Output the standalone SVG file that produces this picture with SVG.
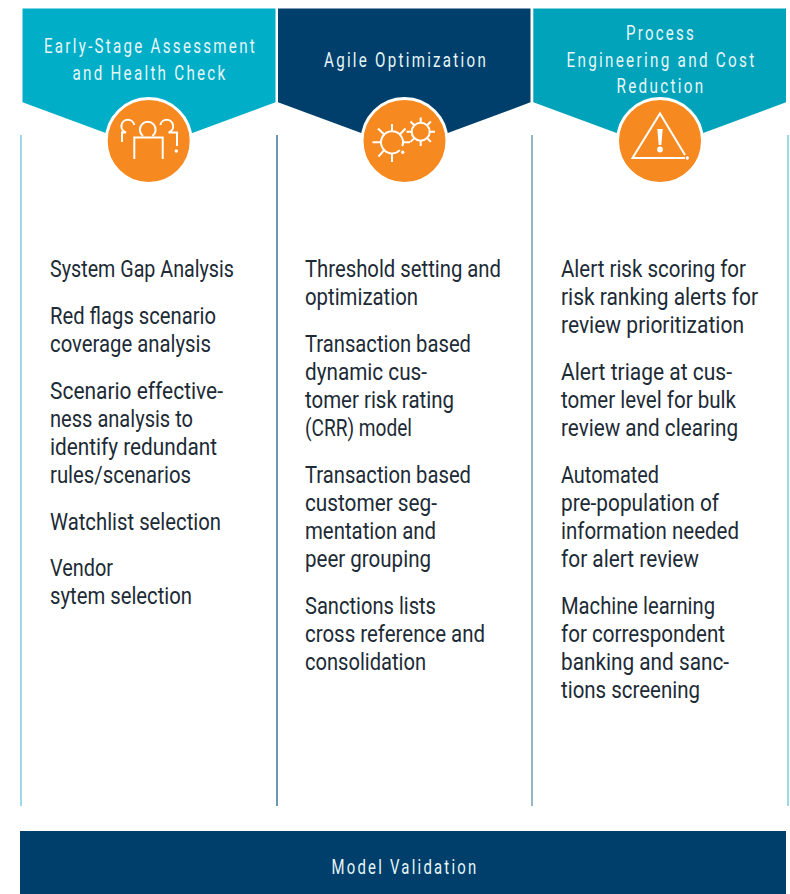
<svg xmlns="http://www.w3.org/2000/svg" width="790" height="894" viewBox="0 0 790 894">
<style>
.h{font-family:"Roboto","Liberation Sans",sans-serif;font-size:20px;fill:#e6f6f8;text-anchor:start;letter-spacing:3px}
.b{font-family:"Roboto","Liberation Sans",sans-serif;font-size:24px;fill:#1d2b36}
.c{fill:#f68a20;stroke:#fff;stroke-width:3}
.i{fill:none;stroke:#fff;stroke-width:2}
.w{fill:#fff}
</style>
<rect width="790" height="894" fill="#fff"/>
<g id="connectors" fill="none">
<path d="M21 135V806" stroke="#7fd3e0" stroke-width="1.6"/>
<path d="M277 135V806" stroke="#1f5f8b" stroke-width="1.3"/>
<path d="M532 135V806" stroke="#7fa3b8" stroke-width="1.6"/>
<path d="M788 135V806" stroke="#7fd3e0" stroke-width="1.6"/>
</g>
<g id="col1">
<path d="M22.500 8.500H275.500V102.300L149 149L22.500 102.300Z" fill="#00aec7"/>
<text class="h" x="44" y="53" textLength="213" lengthAdjust="spacingAndGlyphs">Early-Stage Assessment</text>
<text class="h" x="72.500" y="80" textLength="155" lengthAdjust="spacingAndGlyphs">and Health Check</text>
<circle class="c" cx="148.700" cy="141" r="42.500"/>
<path class="i" d="M134.300 159V137.500H162.700V159M143 136A7.900 7.900 0 1 1 152.500 136M122 142V132.500H126A6.500 6.500 0 1 1 134.300 125M177 146V132.500H168.600A6.500 6.500 0 1 0 160.300 125"/>
<circle class="w" cx="176.300" cy="151" r="1.700"/>
<g class="b">
<text x="50" y="277.300" textLength="184" lengthAdjust="spacingAndGlyphs">System Gap Analysis</text>
<text x="50" y="324.300" textLength="166" lengthAdjust="spacingAndGlyphs">Red flags scenario</text>
<text x="50" y="352.300" textLength="161" lengthAdjust="spacingAndGlyphs">coverage analysis</text>
<text x="50" y="399.300" textLength="173" lengthAdjust="spacingAndGlyphs">Scenario effective-</text>
<text x="50" y="427.300" textLength="143" lengthAdjust="spacingAndGlyphs">ness analysis to</text>
<text x="50" y="455.300" textLength="167" lengthAdjust="spacingAndGlyphs">identify redundant</text>
<text x="50" y="483.300" textLength="141" lengthAdjust="spacingAndGlyphs">rules/scenarios</text>
<text x="50" y="530.300" textLength="171" lengthAdjust="spacingAndGlyphs">Watchlist selection</text>
<text x="50" y="576.300" textLength="63" lengthAdjust="spacingAndGlyphs">Vendor</text>
<text x="50" y="604.300" textLength="142" lengthAdjust="spacingAndGlyphs">sytem selection</text>
</g>
</g>
<g id="col2">
<path d="M278 8.500H530.500V102.300L404.500 149L278 102.300Z" fill="#003f6b"/>
<text class="h" x="324" y="67" textLength="164" lengthAdjust="spacingAndGlyphs">Agile Optimization</text>
<circle class="c" cx="404.500" cy="141" r="42.500"/>
<path class="i" d="M402.300 146.200A11 11 0 1 0 399.800 150.100M392 124V131.300M392 153.300V162M372.500 142.300H381M403 142.300H410M378 128.500L384.200 134.500M378.500 156.500L384.200 150.100M405.500 128.500L399.800 134.500"/>
<circle class="w" cx="402.700" cy="152.300" r="1.700"/>
<circle class="i" cx="420.700" cy="131.700" r="9"/>
<path class="i" d="M420.700 117.500V122.700M420.700 140.700V146M406.500 131.700H411.700M429.700 131.700H435M410.500 121.500L414.300 125.300M430.900 121.500L427.100 125.300M410.500 141.900L414.300 138.100M430.900 141.900L427.100 138.100"/>
<g class="b">
<text x="305" y="277.300" textLength="196" lengthAdjust="spacingAndGlyphs">Threshold setting and</text>
<text x="305" y="305.300" textLength="113" lengthAdjust="spacingAndGlyphs">optimization</text>
<text x="305" y="352.300" textLength="166" lengthAdjust="spacingAndGlyphs">Transaction based</text>
<text x="305" y="380.300" textLength="122" lengthAdjust="spacingAndGlyphs">dynamic cus-</text>
<text x="305" y="408.300" textLength="149" lengthAdjust="spacingAndGlyphs">tomer risk rating</text>
<text x="305" y="436.300" textLength="107" lengthAdjust="spacingAndGlyphs">(CRR) model</text>
<text x="305" y="483.300" textLength="166" lengthAdjust="spacingAndGlyphs">Transaction based</text>
<text x="305" y="511.300" textLength="132" lengthAdjust="spacingAndGlyphs">customer seg-</text>
<text x="305" y="539.300" textLength="131" lengthAdjust="spacingAndGlyphs">mentation and</text>
<text x="305" y="567.300" textLength="126" lengthAdjust="spacingAndGlyphs">peer grouping</text>
<text x="305" y="614.300" textLength="131" lengthAdjust="spacingAndGlyphs">Sanctions lists</text>
<text x="305" y="642.300" textLength="180" lengthAdjust="spacingAndGlyphs">cross reference and</text>
<text x="305" y="670.300" textLength="121" lengthAdjust="spacingAndGlyphs">consolidation</text>
</g>
</g>
<g id="col3">
<path d="M533.300 8.500H786V102.300L660 149L533.300 102.300Z" fill="#00a3ba"/>
<text class="h" x="626" y="40" textLength="70" lengthAdjust="spacingAndGlyphs">Process</text>
<text class="h" x="566.500" y="67" textLength="190" lengthAdjust="spacingAndGlyphs">Engineering and Cost</text>
<text class="h" x="616.500" y="93" textLength="89" lengthAdjust="spacingAndGlyphs">Reduction</text>
<circle class="c" cx="660" cy="141" r="42.500"/>
<path class="i" d="M685 155L660 113.500L632.500 158H685"/>
<path class="w" d="M657.300 129H662.700L661.300 145H658.700Z"/>
<circle class="w" cx="660" cy="149.500" r="2.900"/>
<circle class="w" cx="687.300" cy="158" r="1.700"/>
<g class="b">
<text x="561" y="277.300" textLength="185" lengthAdjust="spacingAndGlyphs">Alert risk scoring for</text>
<text x="561" y="305.300" textLength="197" lengthAdjust="spacingAndGlyphs">risk ranking alerts for</text>
<text x="561" y="333.300" textLength="183" lengthAdjust="spacingAndGlyphs">review prioritization</text>
<text x="561" y="380.300" textLength="171" lengthAdjust="spacingAndGlyphs">Alert triage at cus-</text>
<text x="561" y="408.300" textLength="175" lengthAdjust="spacingAndGlyphs">tomer level for bulk</text>
<text x="561" y="436.300" textLength="177" lengthAdjust="spacingAndGlyphs">review and clearing</text>
<text x="561" y="483.300" textLength="98" lengthAdjust="spacingAndGlyphs">Automated</text>
<text x="561" y="511.300" textLength="158" lengthAdjust="spacingAndGlyphs">pre-population of</text>
<text x="561" y="539.300" textLength="178" lengthAdjust="spacingAndGlyphs">information needed</text>
<text x="561" y="567.300" textLength="138" lengthAdjust="spacingAndGlyphs">for alert review</text>
<text x="561" y="614.300" textLength="154" lengthAdjust="spacingAndGlyphs">Machine learning</text>
<text x="561" y="642.300" textLength="164" lengthAdjust="spacingAndGlyphs">for correspondent</text>
<text x="561" y="670.300" textLength="168" lengthAdjust="spacingAndGlyphs">banking and sanc-</text>
<text x="561" y="698.300" textLength="139" lengthAdjust="spacingAndGlyphs">tions screening</text>
</g>
</g>
<g id="bar">
<rect x="20" y="831" width="766" height="63" fill="#003f6b"/>
<text class="h" x="331.500" y="874" textLength="147" lengthAdjust="spacingAndGlyphs">Model Validation</text>
</g>
</svg>
